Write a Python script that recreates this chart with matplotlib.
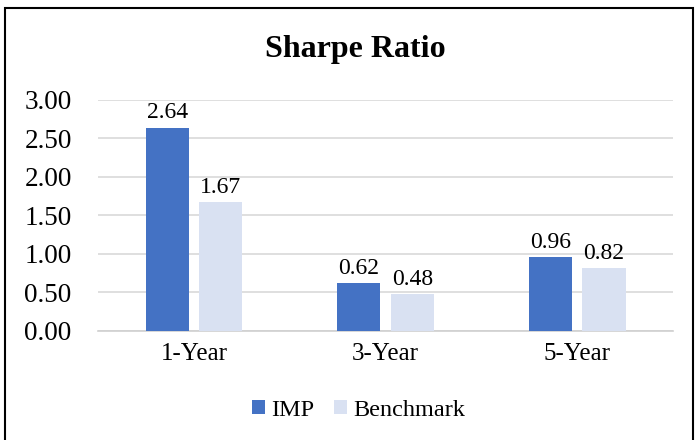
import matplotlib.pyplot as plt
import numpy as np
from matplotlib.patches import Rectangle

categories = ['1-Year', '3-Year', '5-Year']
imp = [2.64, 0.62, 0.96]
benchmark = [1.67, 0.48, 0.82]
yticks = [0.0, 0.5, 1.0, 1.5, 2.0, 2.5, 3.0]

plt.rcParams['font.family'] = ['Liberation Serif', 'DejaVu Serif']

fig = plt.figure(figsize=(6.96, 4.4), dpi=100)
ax = fig.add_axes([0.141, 0.248, 0.826, 0.525])

x = np.arange(len(categories))
w = 0.225
off = 0.14
b1 = ax.bar(x - off, imp, w, color='#4472C4', label='IMP', zorder=3)
b2 = ax.bar(x + off, benchmark, w, color='#D9E1F2', label='Benchmark', zorder=3)

for bars, vals in ((b1, imp), (b2, benchmark)):
    for r, v in zip(bars, vals):
        ax.annotate(f'{v:.2f}', (r.get_x() + r.get_width() / 2, v),
                    xytext=(0, 3), textcoords='offset points',
                    ha='center', va='bottom', fontsize=17)

ax.set_xlim(-0.5, 2.5)
ax.set_ylim(0, 3.0)
ax.set_yticks(yticks)
ax.set_yticklabels([f'{t:.2f}' for t in yticks])
ax.set_xticks(x)
ax.set_xticklabels(categories)
ax.tick_params(axis='both', length=0, labelsize=18)
ax.tick_params(axis='y', labelsize=19.5, pad=19)
ax.tick_params(axis='x', pad=9)
ax.yaxis.grid(True, color='#d9d9d9', linewidth=1.2, zorder=0)
for s in ['top', 'right', 'left']:
    ax.spines[s].set_visible(False)
ax.spines['bottom'].set_color('#d0d0d0')
ax.spines['bottom'].set_linewidth(1.2)

fig.text(0.51, 0.888, 'Sharpe Ratio', ha='center', va='center',
         fontsize=23, fontweight='bold')

fig.legend(loc='center', bbox_to_anchor=(0.515, 0.068), ncol=2, frameon=False,
           fontsize=17.5, handlelength=0.55, handleheight=0.55, handletextpad=0.25,
           columnspacing=0.8)

fig.patches.append(Rectangle((0.007, -0.01), 0.988, 0.992, transform=fig.transFigure,
                             fill=False, edgecolor='black', linewidth=1.5))

plt.savefig('out.png', dpi=100)
